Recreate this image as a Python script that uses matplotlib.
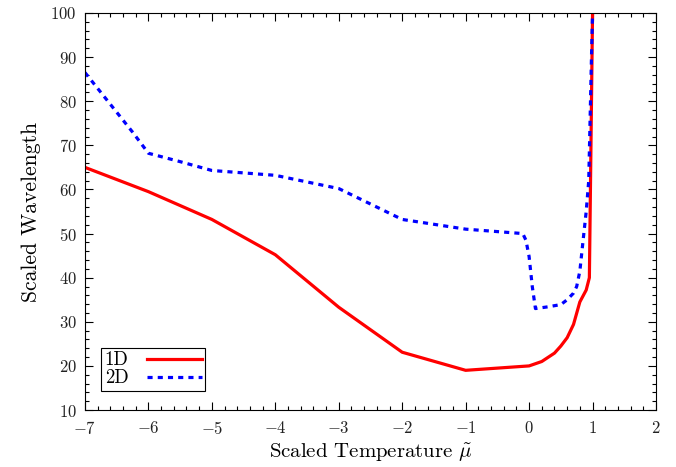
import numpy as np
import matplotlib
matplotlib.use("Agg")
import matplotlib.pyplot as plt

plt.rcParams['font.family'] = 'serif'
plt.rcParams['font.serif'] = ['cmr10', 'DejaVu Serif']
plt.rcParams['mathtext.fontset'] = 'cm'
plt.rcParams['axes.formatter.use_mathtext'] = True
plt.rcParams['axes.unicode_minus'] = True

# 1D curve
mu_1d = [-7, -6, -5, -4, -3, -2, -1, 0, 0.2, 0.4, 0.5, 0.6, 0.7, 0.8, 0.9, 0.95, 1.0]
wl_1d = [65, 59.5, 53.2, 45.2, 33.3, 23.1, 19.0, 20.0, 21.0, 22.9, 24.5, 26.4, 29.4, 34.5, 37.2, 40.0, 100]

# 2D curve
mu_2d = [-7, -6.75, -6.5, -6.25, -6, -5.5, -5, -4, -3, -2, -1, -0.1, -0.05, 0.0, 0.05, 0.1,
         0.3, 0.5, 0.6, 0.7, 0.75, 0.8, 0.85, 0.9, 0.94, 0.96, 0.98, 1.0]
wl_2d = [86.5, 82, 77.5, 73, 68.2, 66.3, 64.3, 63.2, 60.2, 53.2, 51.0, 50.0, 48.5, 44.8, 38, 33.0,
         33.4, 33.9, 35.0, 36.5, 38.0, 41.5, 48.3, 55.0, 62.0, 75.0, 88.0, 100]

fig = plt.figure(figsize=(6.76, 4.67), dpi=100)
ax = fig.add_axes([0.1257, 0.122, 0.8447, 0.8502])

ax.plot(mu_1d, wl_1d, color='red', lw=2.3, label='1D')
ax.plot(mu_2d, wl_2d, color='blue', lw=2.3, linestyle=(0, (1.6, 1.6)), label='2D')

ax.set_xlim(-7, 2)
ax.set_ylim(10, 100)
ax.set_xticks(np.arange(-7, 3, 1))
ax.set_yticks(np.arange(10, 101, 10))
ax.set_xticks(np.arange(-7, 2.01, 0.2), minor=True)
ax.set_yticks(np.arange(10, 100.1, 2), minor=True)
ax.tick_params(which='both', direction='in', top=True, right=True, labelsize=12,
               labelcolor='#222222')
ax.tick_params(which='major', length=6, width=0.8)
ax.tick_params(which='minor', length=3, width=0.8)
ax.tick_params(axis='x', pad=7)
ax.tick_params(axis='y', pad=6)

ax.set_xlabel(r'Scaled Temperature $\tilde{\mu}$', fontsize=15, labelpad=3)
ax.set_ylabel('Scaled Wavelength', fontsize=15.5, labelpad=7)

leg = ax.legend(loc='lower left', bbox_to_anchor=(0.028, 0.048), markerfirst=False,
                prop={'size': 13.5}, fancybox=False, edgecolor='black', framealpha=1,
                handlelength=2.9, borderpad=0.2, labelspacing=0.0, handletextpad=1.0,
                borderaxespad=0)
leg.get_frame().set_linewidth(0.8)

fig.savefig('out.png', dpi=100)
